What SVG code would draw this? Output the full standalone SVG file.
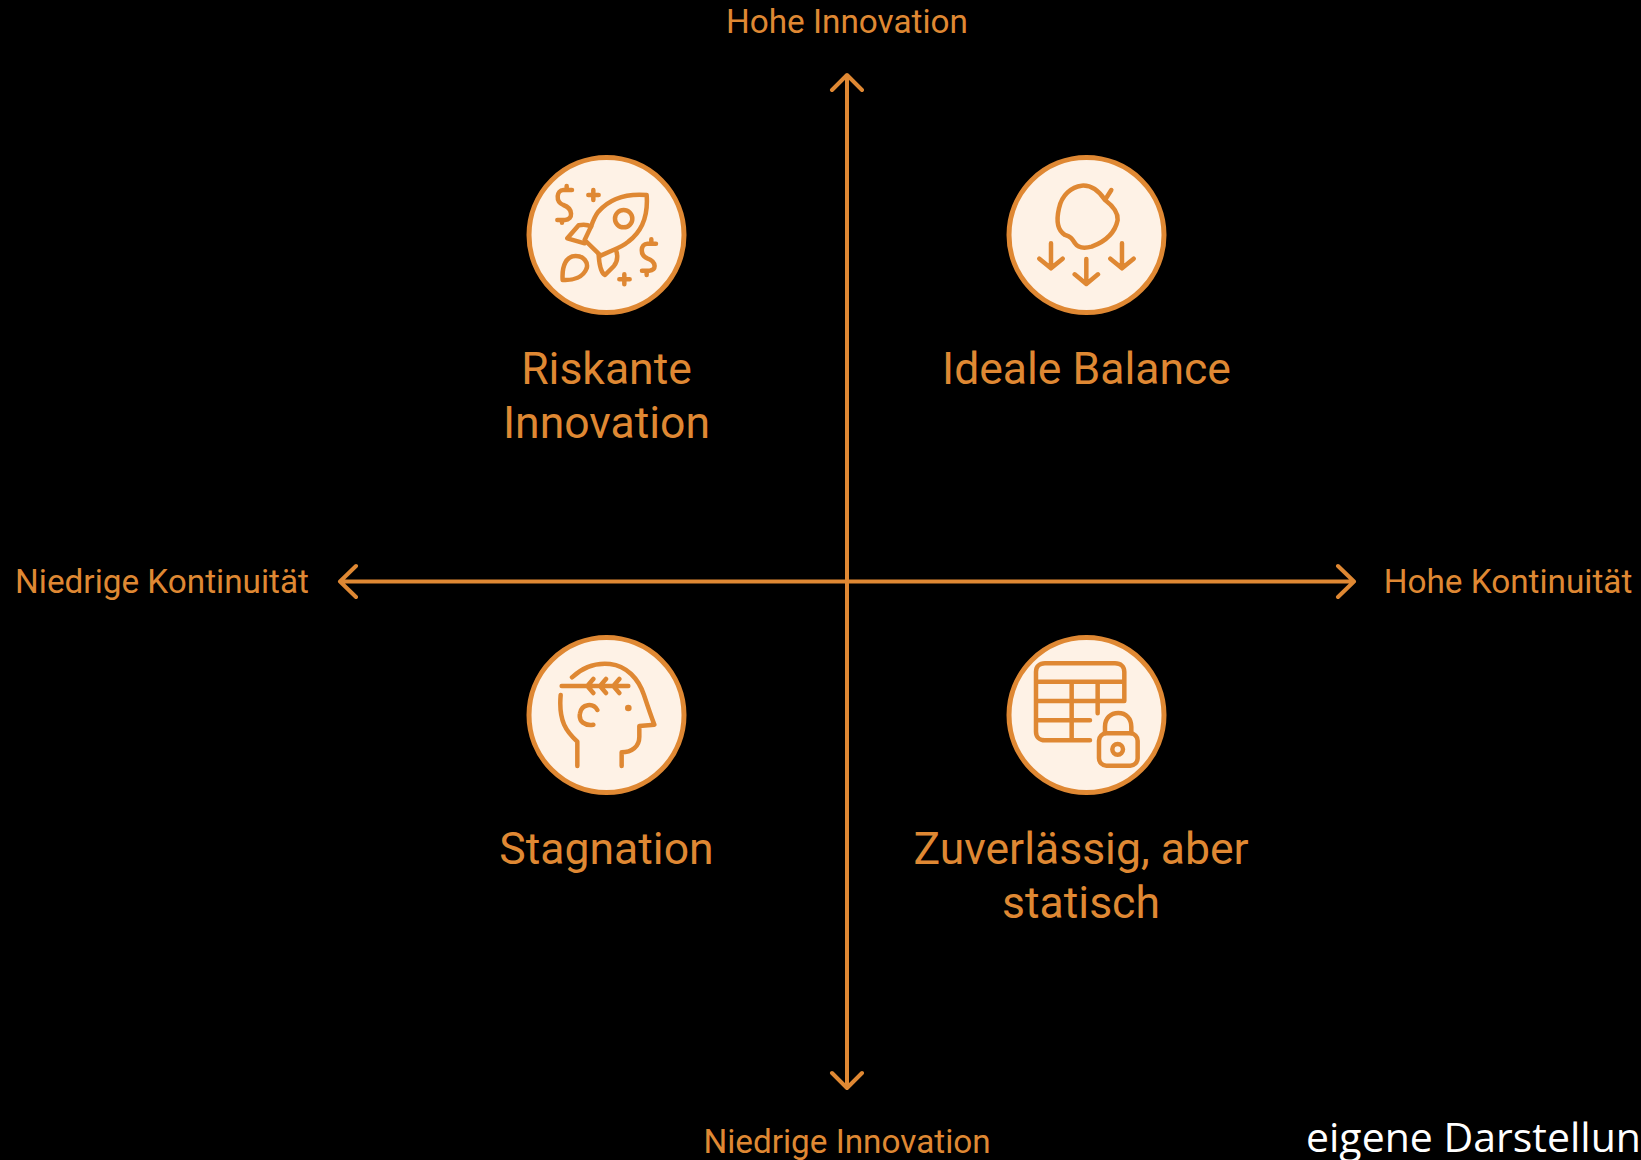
<svg xmlns="http://www.w3.org/2000/svg" width="1641" height="1160" viewBox="0 0 1641 1160">
<style>
.ax{fill:none;stroke:#DF8833;stroke-width:4;stroke-linecap:round;stroke-linejoin:round}
.disc{fill:#FEF2E6;stroke:#DF8833;stroke-width:5}
.ic{fill:none;stroke:#DF8833;stroke-width:13.500;stroke-linecap:round;stroke-linejoin:round}
.dot{fill:#DF8833;stroke:none}
text{font-family:Roboto,"Liberation Sans",sans-serif;fill:#DF8833;text-anchor:middle}
.ax-l{font-size:33.300px}
.q{font-size:44.500px}
</style>
<rect width="1641" height="1160" fill="#000"/>
<g id="connectors">
<path class="ax" d="M847 76V1087M832 90L847 75L862 90M832 1073L847 1088L862 1073"/>
<path class="ax" d="M340 581.500H1354M356 566L340 581.500L356 597M1338 566L1354 581.500L1338 597"/>
</g>
<g id="label-top"><text class="ax-l" x="847" y="33">Hohe Innovation</text></g>
<g id="label-bottom"><text class="ax-l" x="847" y="1153">Niedrige Innovation</text></g>
<g id="label-left"><text class="ax-l" x="162" y="593">Niedrige Kontinuität</text></g>
<g id="label-right"><text class="ax-l" x="1508" y="593">Hohe Kontinuität</text></g>
<g id="node-riskant">
<circle class="disc" cx="606.500" cy="235" r="77.500"/>
<g transform="translate(510 140) scale(.3333)">
<path class="ic" d="M410 165C350 160 300 175 265 215C255 228 250 240 243 260L224 300L272 347L310 330C330 322 342 316 355 305C395 275 415 230 410 165Z"/>
<path class="ic" d="M243 260C235 255 222 253 206 256L172 295L224 310M318 330C325 350 322 365 312 378L285 405C275 400 268 375 266 345"/>
<circle class="ic" cx="341" cy="236" r="26"/>
<path class="ic" d="M158 420C155 375 170 348 197 348C222 348 235 368 230 385C220 412 190 422 158 420Z"/>
<path class="ic" d="M186 150H160C140 150 135 185 160 195C190 205 190 240 165 240H142M170 138V150M156 240V248"/>
<path class="ic" d="M438 311H412C392 311 388 345 412 355C440 365 440 392 418 392H396M424 298V311M410 392V405"/>
<path class="ic" d="M250 150V180M235 165H266M343 403V433M328 418H359"/>
</g>
</g>
<g id="node-ideal">
<circle class="disc" cx="1086.500" cy="235" r="77.500"/>
<g transform="translate(990 140) scale(.3333)">
<path class="ic" d="M345 180C325 150 300 135 275 137C245 140 215 165 207 205C200 235 200 270 225 285C245 292 245 295 255 310C265 325 285 325 305 320C345 305 375 280 383 240C385 215 365 195 345 180ZM345 180L364 150"/>
<path class="ic" d="M183 310V385M148 356L183 385L218 356M289 357V432M254 403L289 432L324 403M396 310V385M361 356L396 385L431 356"/>
</g>
</g>
<g id="node-stagnation">
<circle class="disc" cx="606.500" cy="715" r="77.500"/>
<g transform="translate(510 620) scale(.3333)">
<path class="ic" d="M186 172C220 140 260 128 300 132C350 138 385 175 402 225C412 255 422 285 433 314L388 318V350C388 380 365 397 335 397V438M202 438V365C170 335 145 305 152 225M155 198H355M250 177L232 198L250 219M288 177L270 198L288 219M328 177L310 198L328 219M262 270C250 248 215 250 210 280C205 305 225 318 250 314"/>
<circle class="dot" cx="355" cy="264" r="10"/>
</g>
</g>
<g id="node-zuverlaessig">
<circle class="disc" cx="1086.500" cy="715" r="77.500"/>
<g transform="translate(990 620) scale(.3333)">
<path class="ic" d="M300 361H165C148 361 138 350 138 335V155C138 140 148 130 165 130H375C392 130 403 140 403 155V243H140M138 185H403M245 185V361M323 185V280M138 301H300"/>
<path class="ic" d="M345 340V320C345 295 362 279 385 279C408 279 424 295 424 320V340"/>
<rect class="ic" x="327" y="340" width="116" height="97" rx="22"/>
<circle class="ic" cx="383" cy="388" r="16"/>
</g>
</g>
<g id="text-riskant"><text class="q" x="606.500" y="384">Riskante</text><text class="q" x="606.500" y="437.500">Innovation</text></g>
<g id="text-ideal"><text class="q" x="1086.500" y="384">Ideale Balance</text></g>
<g id="text-stagnation"><text class="q" x="606.500" y="864">Stagnation</text></g>
<g id="text-zuverlaessig"><text class="q" x="1081" y="864">Zuverlässig, aber</text><text class="q" x="1081" y="917.500">statisch</text></g>
<g id="credit"><text x="1306" y="1152" style="font-family:'Open Sans','Noto Sans',sans-serif;fill:#fff;text-anchor:start;font-size:41px">eigene Darstellun</text></g>
</svg>
